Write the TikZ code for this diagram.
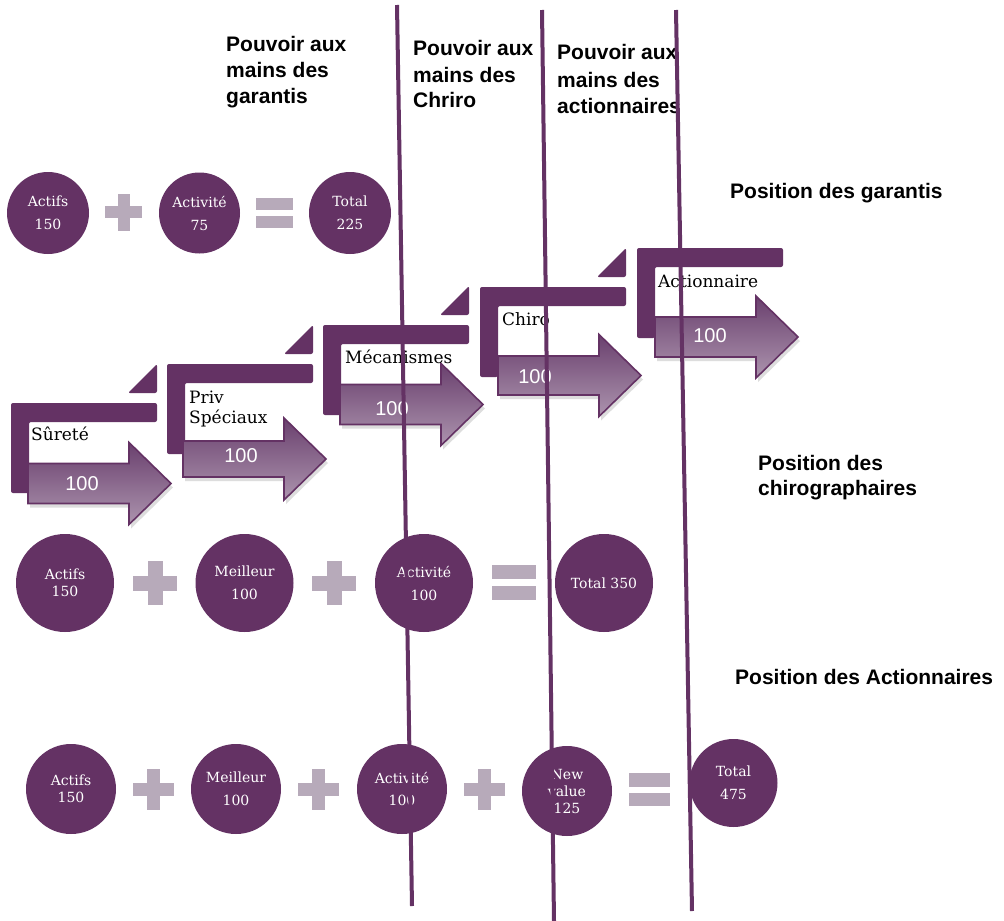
\documentclass[tikz,border=0pt]{standalone}
\usepackage{fontspec}
\setmainfont{DejaVu Serif}
\newfontfamily\hsans{Liberation Sans}
\usetikzlibrary{shadows}
\definecolor{purp}{RGB}{100,50,100}
\definecolor{mauve}{RGB}{183,170,186}
\definecolor{arrtop}{RGB}{106,64,110}
\definecolor{arrbot}{RGB}{172,148,174}
\tikzset{
  bubble/.style={circle, fill=purp, text=white, inner sep=0pt, align=center, font=\fontsize{14}{17}\selectfont},
  hdr/.style={anchor=base west, inner sep=0pt, font=\hsans\bfseries\fontsize{21}{25}\selectfont},
  steplabel/.style={anchor=base west, inner sep=0pt, font=\fontsize{17}{20}\selectfont},
  arrnum/.style={text=white, inner sep=0pt, font=\hsans\fontsize{20}{24}\selectfont},
  bracket/.style={fill=purp, rounded corners=2pt},
  arrowbody/.style={top color=arrtop, bottom color=arrbot, draw=purp, line width=1.6pt, line join=miter,
    drop shadow={shadow xshift=2pt, shadow yshift=-4pt, opacity=0.22, fill=black!60}},
  divider/.style={draw=purp, line width=4pt},
  signc/.style={fill=mauve},
}
\newcommand{\stepL}[2]{%
  \fill[bracket] (#1,#2) -- ++(146,0) -- ++(0,19) -- ++(-128,0) -- ++(0,71) -- ++(-18,0) -- cycle;}
\newcommand{\stepTri}[2]{%
  \fill[bracket] ({#1+117},{#2-10}) -- ({#1+146},{#2-10}) -- ({#1+146},{#2-39}) -- cycle;}
\newcommand{\bigarrow}[3]{%
  \path[arrowbody] (#1,{#2-#3}) -- ({#1+101},{#2-#3}) -- ({#1+101},{#2-41}) -- ({#1+143},#2)
    -- ({#1+101},{#2+41}) -- ({#1+101},{#2+#3}) -- (#1,{#2+#3}) -- cycle;}
\newcommand{\drawplus}[4]{%
  \fill[signc] ({#1-#3/2},{#2-#4/2}) rectangle ({#1+#3/2},{#2+#4/2});
  \fill[signc] ({#1-#4/2},{#2-#3/2}) rectangle ({#1+#4/2},{#2+#3/2});}
\newcommand{\drawequals}[5]{%
  \fill[signc] ({#1-#3/2},{#2-#5/2-#4}) rectangle ({#1+#3/2},{#2-#5/2});
  \fill[signc] ({#1-#3/2},{#2+#5/2}) rectangle ({#1+#3/2},{#2+#5/2+#4});}
\begin{document}
\begin{tikzpicture}[x=1pt,y=-1pt]
\useasboundingbox[fill=white] (0,0) rectangle (1004,921);

% headers
\node[hdr] (h1a) at (226,51) {Pouvoir aux};
\node[hdr] (h1b) at (226,77) {mains des};
\node[hdr] (h1c) at (226,103) {garantis};
\node[hdr] (h2a) at (413,55) {Pouvoir aux};
\node[hdr] (h2b) at (413,82) {mains des};
\node[hdr] (h2c) at (413,107) {Chriro};
\node[hdr] (h3a) at (557,59) {Pouvoir aux};
\node[hdr] (h3b) at (557,87) {mains des};
\node[hdr] (h3c) at (557,113) {actionnaires};
\node[hdr] (pg) at (730,198) {Position des garantis};
\node[hdr] (pc1) at (758,470) {Position des};
\node[hdr] (pc2) at (758,495) {chirographaires};
\node[hdr] (pa) at (735,684) {Position des Actionnaires};

% row 1
\node[bubble, minimum size=82pt] (r1a) at (48,213) {Actifs\\[6pt]150};
\drawplus{123.5}{212}{37}{12}
\node[bubble, minimum size=81pt] (r1b) at (199.5,213) {Activité\\[6pt]75};
\drawequals{274.5}{213}{37}{12}{6}
\node[bubble, minimum size=82pt] (r1c) at (350,213) {Total\\[6pt]225};

% staircase
\stepL{11}{403}  \stepTri{11}{403}
\stepL{167}{364} \stepTri{167}{364}
\stepL{323}{325} \stepTri{323}{325}
\stepL{480}{287} \stepTri{480}{287}
\stepL{637}{248}
\bigarrow{28}{483.5}{20}
\bigarrow{183}{459}{18}
\bigarrow{340}{404.5}{20}
\bigarrow{498}{375.5}{19.5}
\bigarrow{655}{337}{20}
\node[arrnum] (n1) at (82,484) {100};
\node[arrnum] (n2) at (241,456) {100};
\node[arrnum] (n3) at (392,409) {100};
\node[arrnum] (n4) at (535,377) {100};
\node[arrnum] (n5) at (710,336) {100};
\node[steplabel] (s1) at (31,440) {Sûreté};
\node[steplabel] (s2a) at (189,403) {Priv};
\node[steplabel] (s2b) at (189,423) {Spéciaux};
\node[steplabel] (s3) at (345,363) {Mécanismes};
\node[steplabel] (s4) at (502,325) {Chiro};
\node[steplabel] (s5) at (658,287) {Actionnaire};

% row 2
\node[bubble, minimum size=98pt] (r2a) at (65,583) {Actifs\\150};
\drawplus{155}{583}{44}{15}
\node[bubble, minimum size=98pt] (r2b) at (244.5,583) {Meilleur\\[6pt]100};
\drawplus{334}{583}{44}{15}
\node[bubble, minimum size=98pt] (r2c) at (424,583) {Activité\\[6pt]100};
\drawequals{514}{582.5}{44}{14}{7}
\node[bubble, minimum size=98pt] (r2d) at (604,583) {Total 350};

% row 3
\node[bubble, minimum size=90pt] (r3a) at (71,789) {Actifs\\150};
\drawplus{153.5}{789}{41}{13}
\node[bubble, minimum size=90pt] (r3b) at (236,789) {Meilleur\\[6pt]100};
\drawplus{318.5}{789}{41}{13}
\node[bubble, minimum size=90pt] (r3c) at (402,789) {Activité\\[5pt]100};
\drawplus{484.5}{789.5}{41}{13}
\node[bubble, minimum size=90pt] (r3d) at (567,791) {New\\value\\125};
\drawequals{649.5}{789.5}{41}{13.5}{6}
\node[bubble, minimum size=88pt] (r3e) at (733.5,783) {Total\\[6pt]475};

% dividers
\coordinate (d1t) at (397,5);   \coordinate (d1b) at (412,906);
\coordinate (d2t) at (542,10);  \coordinate (d2b) at (554,921);
\coordinate (d3t) at (676,10);  \coordinate (d3b) at (692,911);
\draw[divider] (d1t) -- (d1b);
\draw[divider] (d2t) -- (d2b);
\draw[divider] (d3t) -- (d3b);
\end{tikzpicture}
\end{document}
